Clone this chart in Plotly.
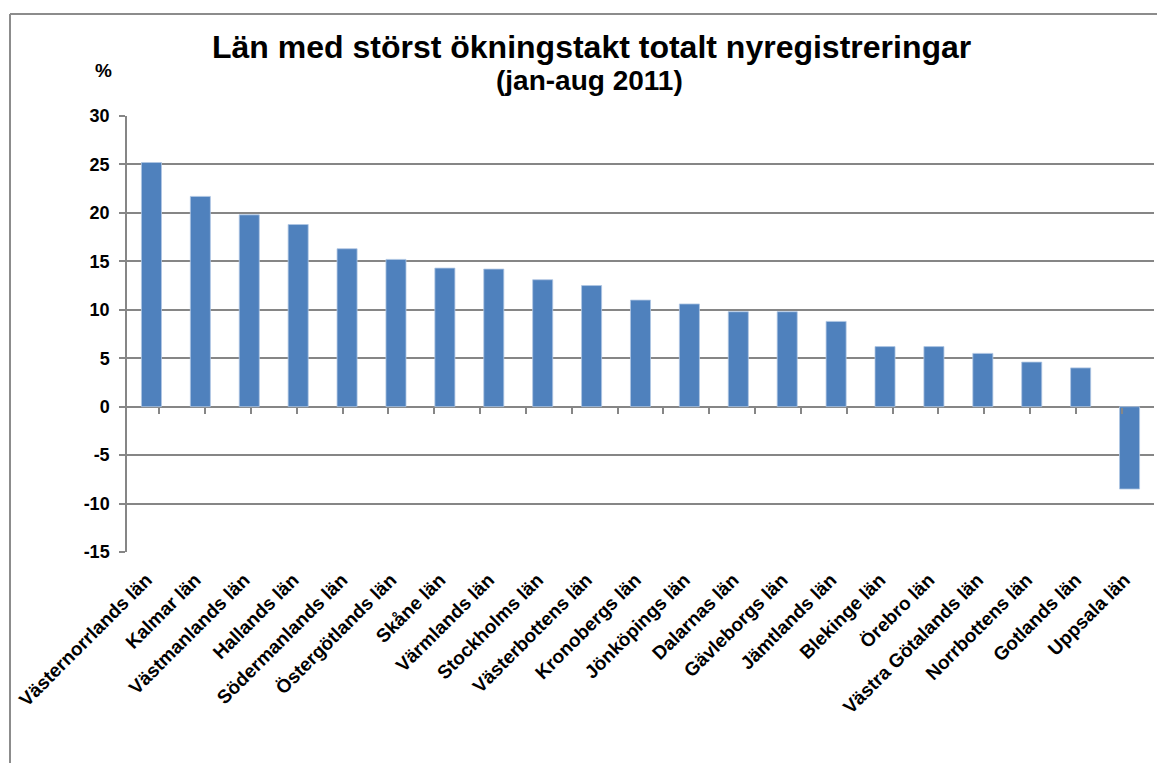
import plotly.graph_objects as go

categories = ["Västernorrlands län", "Kalmar län", "Västmanlands län", "Hallands län",
              "Södermanlands län", "Östergötlands län", "Skåne län", "Värmlands län",
              "Stockholms län", "Västerbottens län", "Kronobergs län", "Jönköpings län",
              "Dalarnas län", "Gävleborgs län", "Jämtlands län", "Blekinge län",
              "Örebro län", "Västra Götalands län", "Norrbottens län", "Gotlands län",
              "Uppsala län"]
values = [25.2, 21.7, 19.8, 18.8, 16.3, 15.2, 14.3, 14.2, 13.1, 12.5, 11.0, 10.6,
          9.8, 9.8, 8.8, 6.2, 6.2, 5.5, 4.6, 4.0, -8.5]
y_ticks = [-15, -10, -5, 0, 5, 10, 15, 20, 25, 30]
y_tick_labels = ["-15", "-10", "-5", "0", "5", "10", "15", "20", "25", "30"]
title_text = "Län med störst ökningstakt totalt nyregistreringar"
subtitle_text = "(jan-aug 2011)"
unit_text = "%"

W, H = 1157, 763
L, R, T, B = 127, 1154, 116, 552.5

def px(x):
    return (x - L) / (R - L)

def py(y):
    return (B - y) / (B - T)

FONT = "Liberation Sans, Arial, sans-serif"
GRID = "#868686"

fig = go.Figure()
fig.add_trace(go.Bar(x=categories, y=values, width=0.41,
                     marker=dict(color="#4F81BD", line=dict(color="#B0C6E3", width=0.8)),
                     showlegend=False))
# helper trace to carry the zero-line axis with boundary ticks
fig.add_trace(go.Scatter(x=categories, y=values, xaxis="x2", mode="markers",
                         marker=dict(opacity=0), hoverinfo="skip", showlegend=False))

fig.update_layout(
    width=W, height=H,
    margin=dict(l=L, r=W - R, t=T, b=H - B, pad=0),
    plot_bgcolor="white", paper_bgcolor="white",
    bargap=0.59,
    xaxis=dict(type="category", categoryorder="array", categoryarray=categories,
               tickangle=-45, showline=False, ticks="", showgrid=False,
               tickfont=dict(family=FONT, size=19, color="black", weight="bold"),
               ticklabelstandoff=12, ticklabelshift=-5),
    xaxis2=dict(type="category", categoryorder="array", categoryarray=categories,
                overlaying="x", anchor="free", position=1/3, side="bottom",
                showline=False, ticks="outside", tickson="boundaries", ticklen=6,
                tickcolor=GRID, tickwidth=1.5, showticklabels=False, showgrid=False),
    yaxis=dict(range=[-15, 30], tickvals=y_ticks, ticktext=y_tick_labels,
               showgrid=True, gridcolor=GRID,
               gridwidth=1.5, zeroline=True, zerolinecolor=GRID, zerolinewidth=2,
               showline=True, linecolor=GRID, linewidth=1.5, ticks="outside",
               ticklen=6, tickcolor=GRID, tickwidth=1.5, ticklabelstandoff=6,
               tickfont=dict(family=FONT, size=18, color="black", weight="bold")),
)

fig.add_annotation(text=title_text, xref="paper", yref="paper", x=px(591), y=py(47),
                   showarrow=False, xanchor="center", yanchor="middle",
                   font=dict(family=FONT, size=32, color="black", weight="bold"))
fig.add_annotation(text=subtitle_text, xref="paper", yref="paper", x=px(589), y=py(80),
                   showarrow=False, xanchor="center", yanchor="middle",
                   font=dict(family=FONT, size=28, color="black", weight="bold"))
fig.add_annotation(text=unit_text, xref="paper", yref="paper", x=px(103), y=py(70),
                   showarrow=False, xanchor="center", yanchor="middle",
                   font=dict(family=FONT, size=19, color="black", weight="bold"))

# outer chart border (top and left edges visible)
fig.add_shape(type="line", xref="paper", yref="paper", x0=px(10), x1=px(1160),
              y0=py(14), y1=py(14), line=dict(color="#8C8C8C", width=2))
fig.add_shape(type="line", xref="paper", yref="paper", x0=px(10), x1=px(10),
              y0=py(14), y1=py(770), line=dict(color="#8C8C8C", width=2))

fig.write_html("out.html", config={"displayModeBar": False},
               post_script="document.body.style.margin='0px';")
